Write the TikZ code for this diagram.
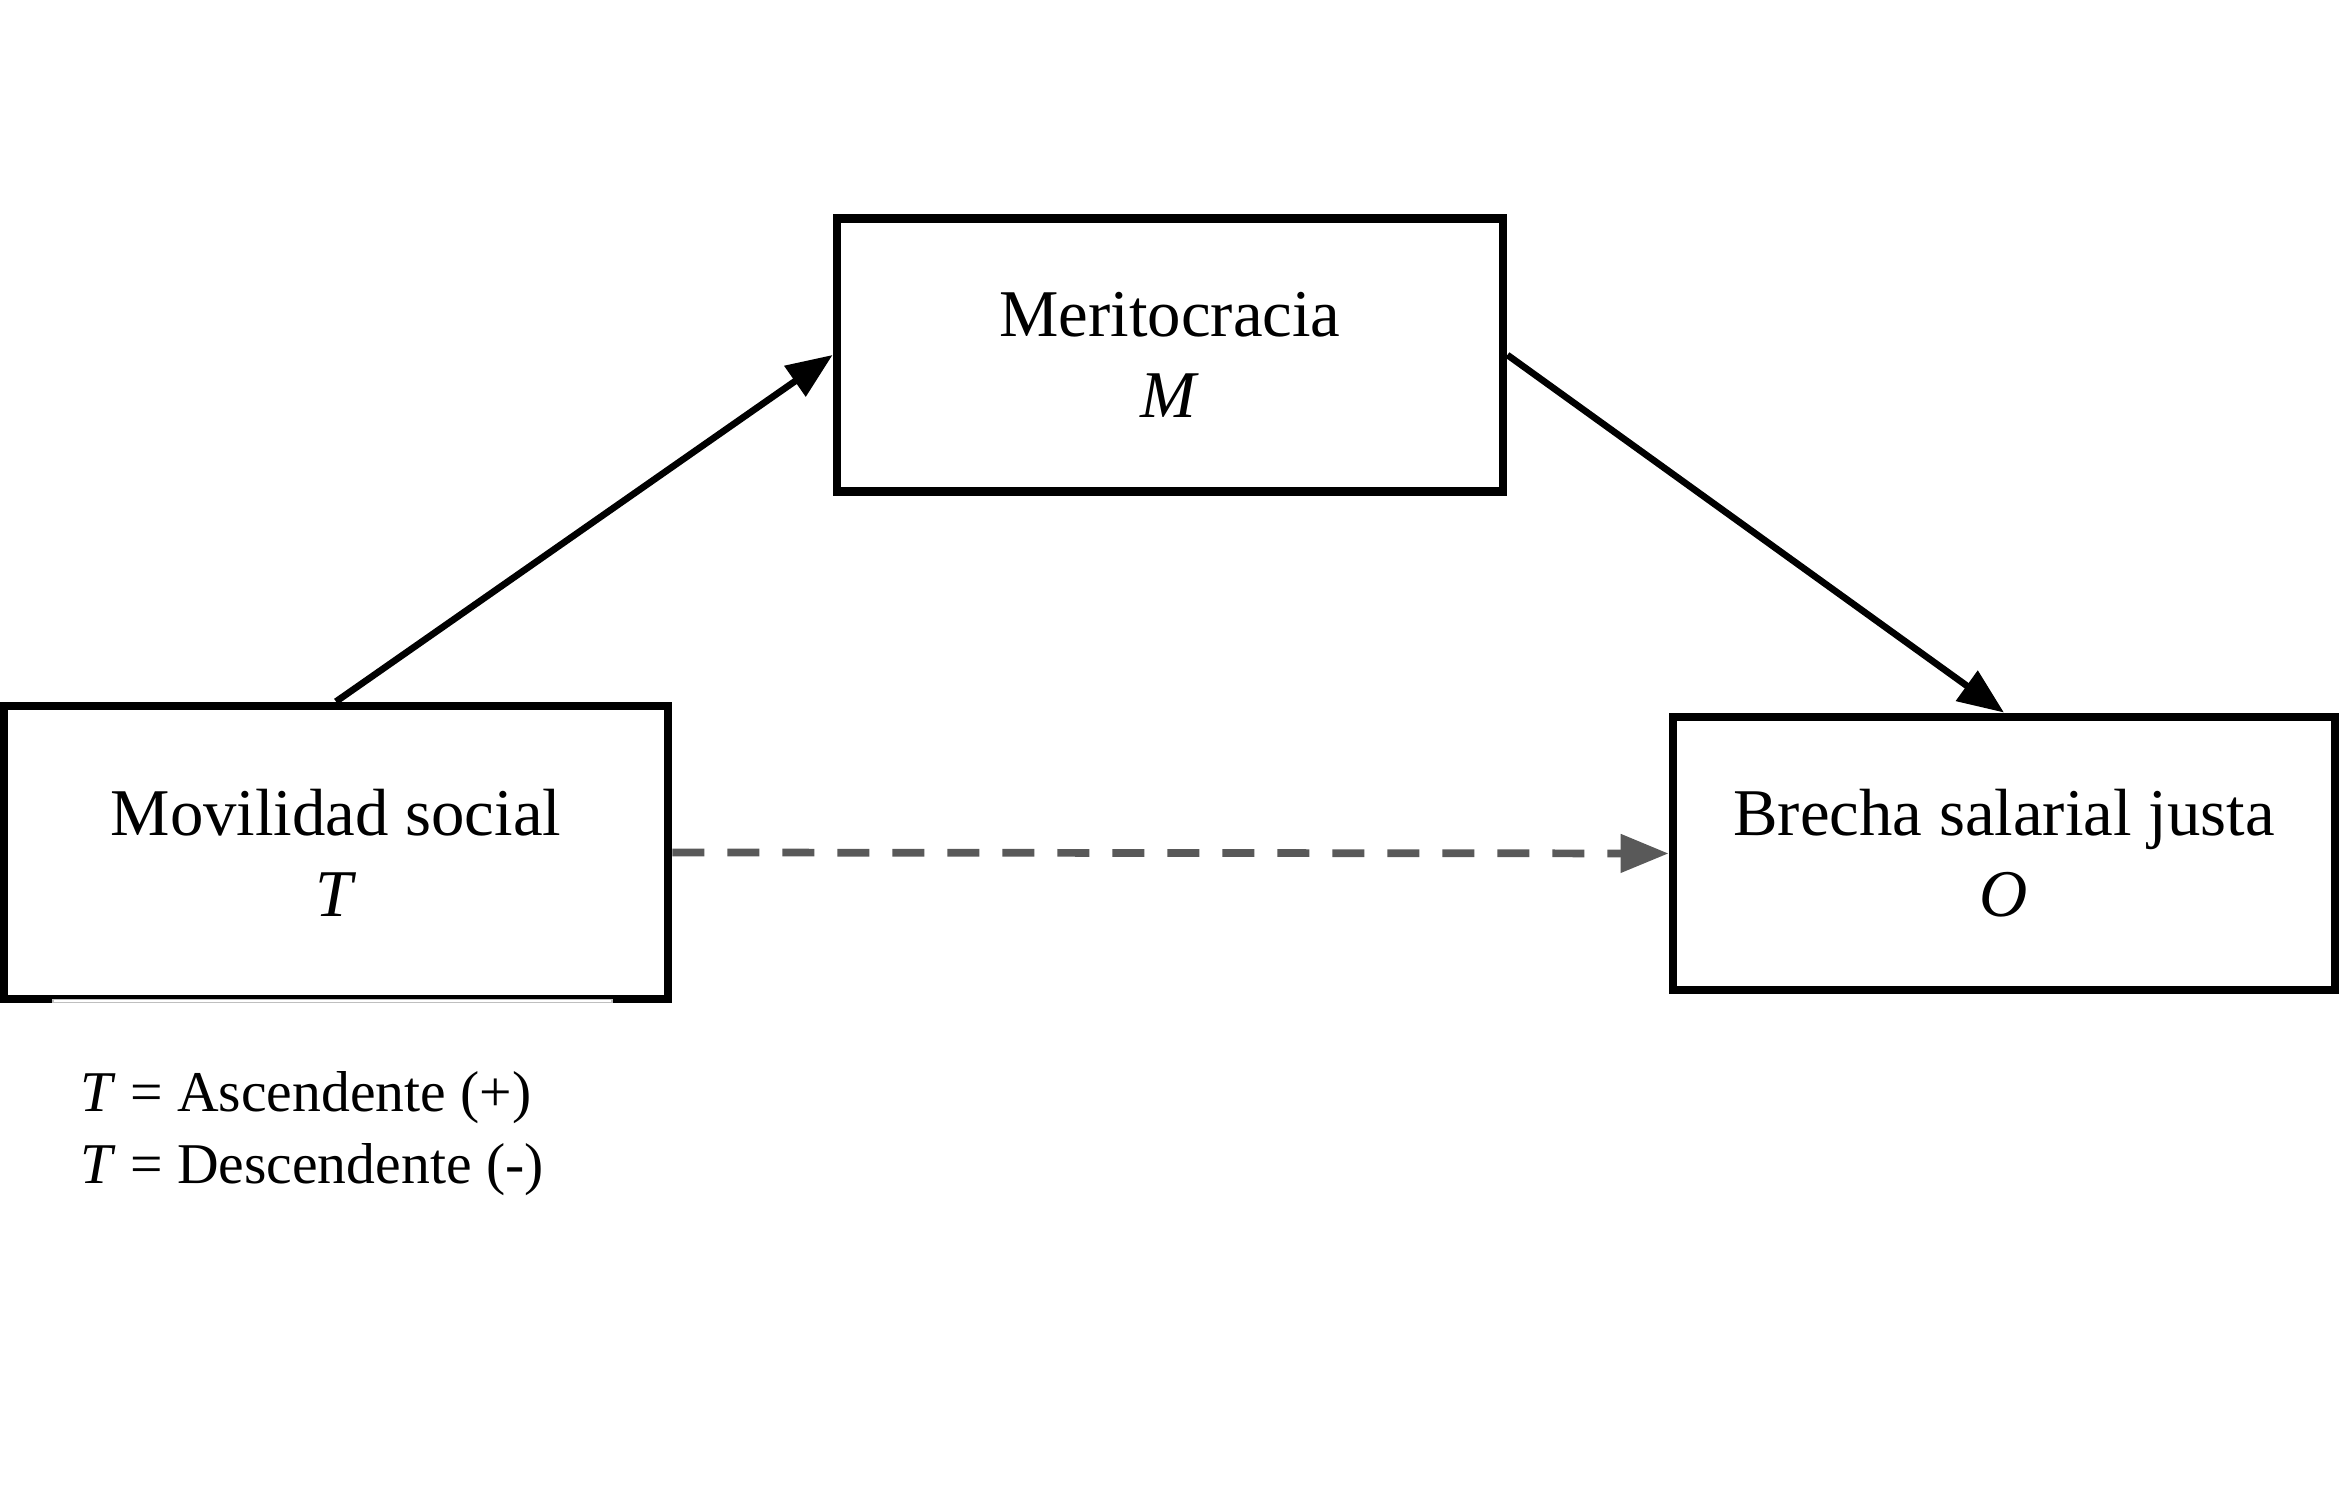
\documentclass[tikz,border=0pt]{standalone}
\usepackage{fontspec}
\setmainfont{Liberation Serif}
\usepackage{xcolor}
\usetikzlibrary{arrows.meta,positioning}
\definecolor{dashgray}{HTML}{595959}

\begin{document}
\begin{tikzpicture}[font=\fontsize{19}{23}\selectfont,
  var/.style={draw=black, line width=2.5pt, fill=white, align=center,
              minimum width=6.66cm, minimum height=2.73cm, inner sep=0pt},
  arr/.style={-{Triangle[length=4.6mm, width=3.6mm]}, line width=1.9pt},
  direct/.style={-{Triangle[length=4.8mm, width=3.7mm]}, draw=dashgray,
                 line width=2.2pt, dash pattern=on 3.2mm off 2.3mm}]
\useasboundingbox (0,0) rectangle (23.42,15.11);
% --- variables ---
\node[var] (merit) at (11.70,11.56) {Meritocracia\\\textit{M}};
\node[var, minimum width=6.64cm, minimum height=2.93cm] (movil) at (3.36,6.585)
  {Movilidad social\\\textit{T}};
\node[var, minimum width=6.62cm] (brecha) at (20.04,6.575)
  {Brecha salarial justa\\\textit{O}};
\fill[white, draw=gray!50, line width=0.3pt] (0.53,5.085) rectangle (6.12,5.115);
% --- paths ---
\draw[arr] (movil.north) -- (merit.west);
\draw[arr] (merit.east) -- (brecha.north);
\draw[direct] (movil.east) -- (brecha.west);
% --- coding of T ---
\node[anchor=base west, align=left, font=\fontsize{16.4}{20.5}\selectfont]
  (coding) at (0.68,3.27)
  {\textit{T} = Ascendente (+)\\\textit{T} = Descendente (-)};
\end{tikzpicture}
\end{document}
